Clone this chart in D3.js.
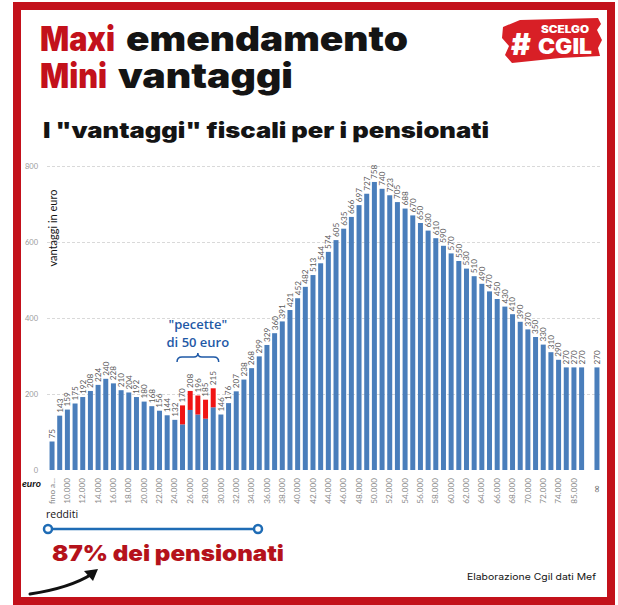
<!DOCTYPE html>
<html>
<head>
<meta charset="utf-8">
<script src="https://cdn.jsdelivr.net/npm/d3@7"></script>
<style>
  body { margin: 0; background: #fff; }
  svg { display: block; }
</style>
</head>
<body>
<div id="chart"></div>
<script>
const W = 618, H = 605;

// tick labels on the income axis (one every two bars, plus the last one)
const xLabels = ["fino a...", "10.000", "12.000", "14.000", "16.000", "18.000", "20.000",
  "22.000", "24.000", "26.000", "28.000", "30.000", "32.000", "34.000", "36.000", "38.000",
  "40.000", "42.000", "44.000", "46.000", "48.000", "50.000", "52.000", "54.000", "56.000",
  "58.000", "60.000", "62.000", "64.000", "66.000", "68.000", "70.000", "72.000", "74.000",
  "85.000", "\u221e"];

// benefit per income bracket (null = empty slot before the last bar)
const values = [75, 143, 159, 175, 192, 208, 224, 240, 228, 210, 204, 192, 180, 168, 156,
  144, 132, 170, 208, 196, 185, 215, 146, 176, 207, 238, 268, 299, 329, 360, 391, 421, 452,
  482, 513, 544, 574, 605, 635, 666, 697, 727, 758, 740, 723, 705, 688, 670, 650, 630, 610,
  590, 570, 550, 530, 510, 490, 470, 450, 430, 410, 390, 370, 350, 330, 310, 290, 270, 270,
  270, null, 270];

// the "pecette" (50 euro patch) on top of some bars
const pecetteSlots = [17, 18, 19, 20, 21];
const pecetteValues = [50, 50, 50, 50, 50];

const yTicks = [0, 200, 400, 600, 800];

const RED = "#c3111b", BLUE = "#4a7ebb", DARK = "#141414";

const svg = d3.select("#chart").append("svg")
    .attr("width", W)
    .attr("height", H);

svg.append("rect").attr("width", W).attr("height", H).attr("fill", "#fff");

// red frame
svg.append("rect")
    .attr("x", 17).attr("y", 6)
    .attr("width", 594).attr("height", 595)
    .attr("fill", "none")
    .attr("stroke", RED)
    .attr("stroke-width", 8);

// headings
const head = svg.append("g")
    .attr("font-family", "Inter, 'Open Sans', sans-serif")
    .attr("font-weight", 900);

const headText = (txt, x, y, w, size, col) => head.append("text")
    .attr("x", x).attr("y", y)
    .attr("font-size", size)
    .attr("fill", col)
    .attr("textLength", w)
    .attr("lengthAdjust", "spacingAndGlyphs")
    .text(txt);

headText("Maxi", 40, 51, 75, 34, RED);
headText("emendamento", 126, 51, 282, 34, DARK);
headText("Mini", 40, 88, 67, 34, RED);
headText("vantaggi", 118, 88, 175, 34, DARK);
headText("I \"vantaggi\" fiscali per i pensionati", 43, 138, 446, 21, DARK);

// logo
const logo = svg.append("g");
logo.append("path")
    .attr("d", "M503,27 L520,20 L598,18 L601,24 L597,30 L602,40 L598,48 L600,56 L560,58 L512,63 L505,55 L509,46 L502,38 Z")
    .attr("fill", "#d81f26");
logo.append("text").attr("x", 511).attr("y", 55)
    .attr("font-family", "Inter, sans-serif").attr("font-weight", 900)
    .attr("font-size", 30).attr("fill", "#fff").text("#");
logo.append("text").attr("x", 541).attr("y", 33)
    .attr("font-family", "Inter, sans-serif").attr("font-weight", 900)
    .attr("font-size", 10).attr("fill", "#fff")
    .attr("textLength", 48).attr("lengthAdjust", "spacingAndGlyphs").text("SCELGO");
logo.append("text").attr("x", 538).attr("y", 54)
    .attr("font-family", "Inter, sans-serif").attr("font-weight", 900)
    .attr("font-size", 21).attr("fill", "#fff")
    .attr("textLength", 54).attr("lengthAdjust", "spacingAndGlyphs").text("CGIL");

// chart scales
const slots = d3.range(values.length);
const x = d3.scaleBand()
    .domain(slots)
    .range([48.2, 600.8])
    .paddingInner(0.35)
    .paddingOuter(0.175);

const y = d3.scaleLinear()
    .domain([0, 800])
    .range([470, 166]);

const chart = svg.append("g").attr("font-family", "Lato, 'Liberation Sans', sans-serif");

// dashed grid
chart.append("g")
    .attr("transform", "translate(47,0)")
    .call(d3.axisLeft(y).tickValues(yTicks.slice(1)).tickSize(-555).tickFormat(""))
    .call(g => g.select(".domain").remove())
    .call(g => g.selectAll("line")
        .attr("stroke", "#d9d9d9")
        .attr("stroke-dasharray", "3,2"));

// y tick labels
chart.append("g")
    .attr("transform", "translate(38,0)")
    .call(d3.axisLeft(y).tickValues(yTicks).tickSize(0).tickPadding(0))
    .call(g => g.select(".domain").remove())
    .call(g => g.selectAll("text")
        .attr("font-family", "Lato, sans-serif")
        .attr("font-size", 7.5)
        .attr("fill", "#9a9a9a"));

chart.append("text")
    .attr("transform", `translate(57,${228}) rotate(-90)`)
    .attr("text-anchor", "middle")
    .attr("font-size", 11)
    .attr("fill", DARK)
    .text("vantaggi in euro");

// bars
const data = slots.filter(i => values[i] != null).map(i => ({ i, v: values[i] }));
const patch = new Map(pecetteSlots.map((s, k) => [s, pecetteValues[k]]));

chart.append("g").selectAll("rect")
    .data(data)
    .join("rect")
    .attr("x", d => x(d.i))
    .attr("width", x.bandwidth())
    .attr("y", d => y(d.v - (patch.get(d.i) || 0)))
    .attr("height", d => y(0) - y(d.v - (patch.get(d.i) || 0)))
    .attr("fill", BLUE);

chart.append("g").selectAll("rect")
    .data(data.filter(d => patch.has(d.i)))
    .join("rect")
    .attr("x", d => x(d.i))
    .attr("width", x.bandwidth())
    .attr("y", d => y(d.v))
    .attr("height", d => y(d.v - patch.get(d.i)) - y(d.v))
    .attr("fill", "#f01414");

// data labels
chart.append("g").selectAll("text")
    .data(data)
    .join("text")
    .attr("transform", d => `translate(${x(d.i) + x.bandwidth() / 2 + 2.9},${y(d.v) - 3}) rotate(-90)`)
    .attr("font-size", 8.2)
    .attr("fill", "#5a5a5a")
    .text(d => d.v);

// income axis
const labelSlots = xLabels.map((l, k) => k < xLabels.length - 1 ? k * 2 : slots.length - 1);
const labelOf = new Map(labelSlots.map((s, k) => [s, xLabels[k]]));
const lastSlot = slots.length - 1;

chart.append("g")
    .attr("transform", `translate(0,${y(0)})`)
    .call(d3.axisBottom(x).tickValues(labelSlots).tickFormat(s => labelOf.get(s)).tickSize(0))
    .call(g => g.select(".domain").remove())
    .call(g => g.selectAll("text")
        .attr("font-family", "Lato, sans-serif")
        .attr("font-size", 8.2)
        .attr("fill", "#8a8a8a")
        .attr("text-anchor", "end")
        .attr("dy", "0.32em")
        .attr("transform", "translate(0,-9) rotate(-90)")
        .attr("x", -17)
        .attr("y", 0))
    .call(g => g.selectAll(".tick")
        .filter(s => s === lastSlot)
        .select("text")
        .attr("font-family", "'DejaVu Sans', sans-serif")
        .attr("font-size", 10)
        .attr("fill", "#555")
        .attr("x", -24));

chart.append("text")
    .attr("x", 22).attr("y", 487)
    .attr("font-size", 10).attr("font-style", "italic").attr("font-weight", 700)
    .attr("fill", DARK)
    .text("euro");

// "pecette" annotation
const bx0 = x(pecetteSlots[0]) - 3, bx1 = x(pecetteSlots[pecetteSlots.length - 1]) + x.bandwidth() + 3;
const bm = (bx0 + bx1) / 2, by = 362;
const ANN = "#1f59a6";
chart.append("path")
    .attr("d", `M${bx0},${by} q0,-5 5,-5 H${bm - 4} q4,0 4,-4 q0,4 4,4 H${bx1 - 5} q5,0 5,5`)
    .attr("fill", "none")
    .attr("stroke", ANN)
    .attr("stroke-width", 1.5);

chart.append("text")
    .attr("x", bm).attr("y", 329)
    .attr("text-anchor", "middle")
    .attr("font-family", "'Open Sans', sans-serif")
    .attr("font-weight", 600)
    .attr("font-size", 13).attr("fill", ANN)
    .text("\"pecette\"");
chart.append("text")
    .attr("x", bm).attr("y", 347)
    .attr("text-anchor", "middle")
    .attr("font-family", "'Open Sans', sans-serif")
    .attr("font-weight", 600)
    .attr("font-size", 13).attr("fill", ANN)
    .text("di 50 euro");

// bottom notes
svg.append("text")
    .attr("x", 46).attr("y", 518)
    .attr("font-family", "'Open Sans', sans-serif")
    .attr("font-size", 10.5).attr("fill", DARK)
    .text("redditi");

svg.append("line")
    .attr("x1", 48).attr("x2", 258)
    .attr("y1", 529).attr("y2", 529)
    .attr("stroke", "#1f6cb5").attr("stroke-width", 2.5);
svg.selectAll("circle.end")
    .data([48, 258])
    .join("circle")
    .attr("class", "end")
    .attr("cx", d => d).attr("cy", 529).attr("r", 4)
    .attr("fill", "#fff").attr("stroke", "#1f6cb5").attr("stroke-width", 2.5);

svg.append("text")
    .attr("x", 52).attr("y", 561)
    .attr("font-family", "Inter, sans-serif").attr("font-weight", 900)
    .attr("font-size", 22).attr("fill", "#b5121b")
    .attr("textLength", 232).attr("lengthAdjust", "spacingAndGlyphs")
    .text("87% dei pensionati");

svg.append("text")
    .attr("x", 467).attr("y", 580)
    .attr("font-family", "Inter, sans-serif")
    .attr("font-size", 9).attr("fill", DARK)
    .attr("textLength", 129).attr("lengthAdjust", "spacingAndGlyphs")
    .text("Elaborazione Cgil dati Mef");

// arrow
svg.append("path")
    .attr("d", "M30,594 Q70,588 92,574")
    .attr("fill", "none")
    .attr("stroke", "#111")
    .attr("stroke-width", 3)
    .attr("stroke-linecap", "round");
svg.append("path")
    .attr("d", "M98,569 L84,571 L93,581 Z")
    .attr("fill", "#111");
</script>
</body>
</html>
